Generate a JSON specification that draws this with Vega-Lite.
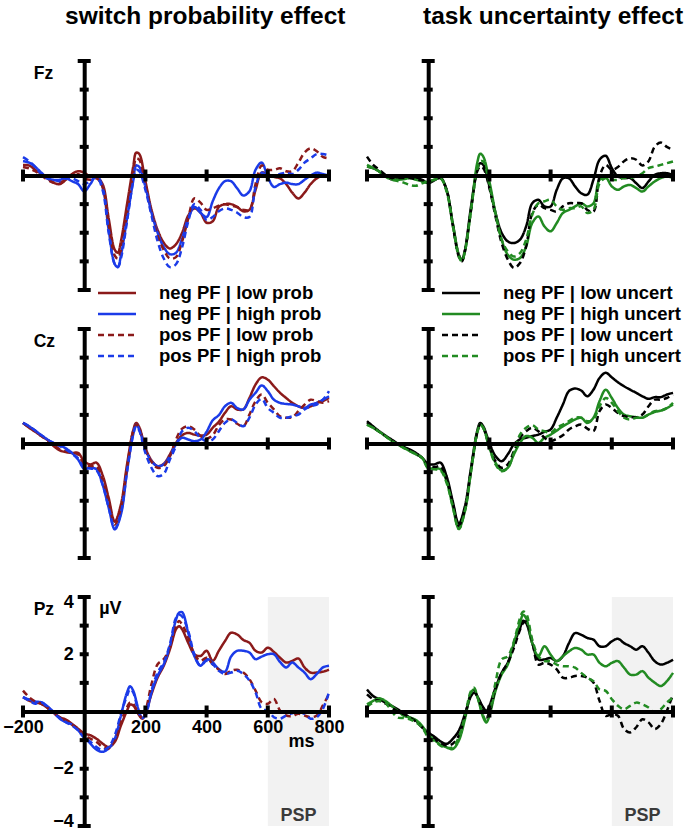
{
  "$schema": "https://vega.github.io/schema/vega-lite/v6.json",
  "background": "white",
  "padding": {"left": 2, "top": 4, "right": 5, "bottom": 5},
  "bounds": "flush",
  "columns": 2,
  "spacing": {"row": 39, "column": 38},
  "config": {
    "view": {"stroke": null},
    "font": "Liberation Sans",
    "axis": {
      "labelFont": "Liberation Sans", "labelFontWeight": "bold", "labelFontSize": 18, "labelColor": "black",
      "titleFont": "Liberation Sans", "titleFontWeight": "bold", "titleFontSize": 17.5, "titleColor": "black",
      "domain": true, "domainColor": "black", "domainWidth": 4, "ticks": false, "grid": false, "labels": false
    },
    "axisX": {"offset": -114.5, "labelFlush": false, "labelPadding": 7, "labelOverlap": false},
    "axisY": {"offset": -61.2, "labelFlush": true, "labelFlushOffset": 4, "labelPadding": 11, "labelOverlap": false},
    "legend": {
      "title": null, "direction": "vertical", "symbolType": "M-2,0H2", "symbolSize": 361, "symbolStrokeWidth": 2.5,
      "labelFont": "Liberation Sans", "labelFontSize": 18.5, "labelFontWeight": "bold", "labelColor": "black",
      "labelOffset": 31, "labelLimit": 300, "rowPadding": 0, "padding": 0
    },
    "tick": {"opacity": 1, "color": "black", "thickness": 4},
    "title": {"font": "Liberation Sans", "fontWeight": "bold", "fontSize": 24.5, "color": "black", "anchor": "start", "frame": "group", "baseline": "alphabetic", "offset": 29.5}
  },
  "resolve": {"scale": {"color": "independent", "strokeDash": "independent"}},
  "datasets": {
    "xt": [{"t": -200}, {"t": 200}, {"t": 400}, {"t": 600}, {"t": 800}],
    "yt": [{"v": -4}, {"v": -3}, {"v": -2}, {"v": -1}, {"v": 1}, {"v": 2}, {"v": 3}, {"v": 4}],
    "psp": [{"t0": 600, "t1": 800, "label": "PSP"}],
    "unit": [{"label": "µV"}],
    "FzL": [
      {"t":-200,"nl":0.37,"nh":0.5,"pl":0.3,"ph":0.64},
      {"t":-180,"nl":0.35,"nh":0.45,"pl":0.25,"ph":0.5},
      {"t":-160,"nl":0.2,"nh":0.3,"pl":0.15,"ph":0.3},
      {"t":-140,"nl":0.05,"nh":0.1,"pl":0.0,"ph":0.05},
      {"t":-120,"nl":-0.1,"nh":-0.1,"pl":-0.15,"ph":-0.1},
      {"t":-100,"nl":-0.25,"nh":-0.15,"pl":-0.25,"ph":-0.15},
      {"t":-80,"nl":-0.3,"nh":-0.15,"pl":-0.25,"ph":-0.2},
      {"t":-60,"nl":-0.15,"nh":-0.1,"pl":-0.15,"ph":-0.1},
      {"t":-40,"nl":0.05,"nh":-0.2,"pl":0.0,"ph":-0.1},
      {"t":-20,"nl":0.15,"nh":-0.3,"pl":0.05,"ph":-0.2},
      {"t":0,"nl":0.1,"nh":-0.55,"pl":-0.1,"ph":-0.3},
      {"t":20,"nl":-0.05,"nh":-0.3,"pl":-0.15,"ph":-0.2},
      {"t":40,"nl":-0.05,"nh":0.0,"pl":-0.1,"ph":-0.05},
      {"t":60,"nl":-0.3,"nh":-0.4,"pl":-0.4,"ph":-0.5},
      {"t":80,"nl":-1.5,"nh":-1.9,"pl":-1.7,"ph":-2.0},
      {"t":100,"nl":-2.6,"nh":-3.1,"pl":-2.8,"ph":-3.1},
      {"t":110,"nl":-2.7,"nh":-3.2,"pl":-2.9,"ph":-3.2},
      {"t":120,"nl":-2.3,"nh":-2.8,"pl":-2.6,"ph":-2.9},
      {"t":140,"nl":-1.0,"nh":-1.5,"pl":-1.3,"ph":-1.6},
      {"t":160,"nl":0.3,"nh":-0.2,"pl":0.1,"ph":-0.2},
      {"t":170,"nl":0.8,"nh":0.35,"pl":0.6,"ph":0.2},
      {"t":180,"nl":0.75,"nh":0.3,"pl":0.55,"ph":0.15},
      {"t":200,"nl":-0.2,"nh":-0.4,"pl":-0.3,"ph":-0.5},
      {"t":220,"nl":-1.2,"nh":-1.3,"pl":-1.3,"ph":-1.4},
      {"t":240,"nl":-1.9,"nh":-2.0,"pl":-2.1,"ph":-2.3},
      {"t":260,"nl":-2.35,"nh":-2.5,"pl":-2.6,"ph":-2.9},
      {"t":280,"nl":-2.55,"nh":-2.75,"pl":-2.9,"ph":-3.2},
      {"t":300,"nl":-2.4,"nh":-2.7,"pl":-2.85,"ph":-3.1},
      {"t":320,"nl":-2.0,"nh":-2.2,"pl":-2.3,"ph":-2.5},
      {"t":340,"nl":-1.4,"nh":-1.5,"pl":-1.5,"ph":-1.6},
      {"t":360,"nl":-1.15,"nh":-1.1,"pl":-0.8,"ph":-1.0},
      {"t":380,"nl":-1.3,"nh":-1.3,"pl":-0.95,"ph":-1.2},
      {"t":400,"nl":-1.65,"nh":-1.45,"pl":-1.2,"ph":-1.55},
      {"t":420,"nl":-1.6,"nh":-0.9,"pl":-1.15,"ph":-1.45},
      {"t":440,"nl":-1.1,"nh":-0.45,"pl":-1.05,"ph":-1.25},
      {"t":460,"nl":-1.0,"nh":-0.2,"pl":-1.0,"ph":-1.15},
      {"t":480,"nl":-1.0,"nh":-0.2,"pl":-1.05,"ph":-1.2},
      {"t":500,"nl":-1.1,"nh":-0.45,"pl":-1.1,"ph":-1.3},
      {"t":520,"nl":-1.25,"nh":-0.7,"pl":-1.2,"ph":-1.45},
      {"t":540,"nl":-1.2,"nh":-0.55,"pl":-1.2,"ph":-1.45},
      {"t":560,"nl":-0.5,"nh":0.2,"pl":-0.3,"ph":-0.4},
      {"t":580,"nl":0.1,"nh":0.45,"pl":0.35,"ph":0.1},
      {"t":600,"nl":0.05,"nh":-0.05,"pl":0.2,"ph":-0.05},
      {"t":620,"nl":-0.05,"nh":-0.4,"pl":0.2,"ph":0.0},
      {"t":640,"nl":-0.1,"nh":-0.3,"pl":0.25,"ph":0.05},
      {"t":660,"nl":-0.3,"nh":-0.25,"pl":0.15,"ph":0.1},
      {"t":680,"nl":-0.6,"nh":-0.3,"pl":0.15,"ph":0.05},
      {"t":700,"nl":-0.8,"nh":-0.3,"pl":0.45,"ph":0.2},
      {"t":720,"nl":-0.6,"nh":-0.15,"pl":0.8,"ph":0.45},
      {"t":740,"nl":-0.3,"nh":0.0,"pl":0.95,"ph":0.6},
      {"t":760,"nl":-0.1,"nh":0.1,"pl":0.85,"ph":0.75},
      {"t":780,"nl":0.0,"nh":0.05,"pl":0.65,"ph":0.75},
      {"t":800,"nl":0.0,"nh":0.0,"pl":0.6,"ph":0.7}
    ],
    "FzR": [
      {"t":-200,"nl":0.31,"nh":0.31,"pl":0.66,"ph":0.37},
      {"t":-180,"nl":0.26,"nh":0.26,"pl":0.37,"ph":0.26},
      {"t":-160,"nl":0.14,"nh":0.14,"pl":0.2,"ph":0.14},
      {"t":-140,"nl":0.0,"nh":0.0,"pl":0.02,"ph":-0.03},
      {"t":-120,"nl":-0.13,"nh":-0.13,"pl":-0.09,"ph":-0.15},
      {"t":-100,"nl":-0.13,"nh":-0.15,"pl":-0.09,"ph":-0.19},
      {"t":-80,"nl":-0.1,"nh":-0.13,"pl":-0.09,"ph":-0.25},
      {"t":-60,"nl":-0.07,"nh":-0.09,"pl":-0.09,"ph":-0.33},
      {"t":-40,"nl":-0.09,"nh":-0.15,"pl":-0.13,"ph":-0.36},
      {"t":-20,"nl":-0.15,"nh":-0.2,"pl":-0.17,"ph":-0.27},
      {"t":0,"nl":-0.27,"nh":-0.24,"pl":-0.21,"ph":-0.21},
      {"t":20,"nl":-0.17,"nh":-0.15,"pl":-0.15,"ph":-0.15},
      {"t":40,"nl":-0.07,"nh":-0.09,"pl":-0.09,"ph":-0.09},
      {"t":60,"nl":-0.5,"nh":-0.5,"pl":-0.5,"ph":-0.56},
      {"t":80,"nl":-1.66,"nh":-1.66,"pl":-1.72,"ph":-1.72},
      {"t":100,"nl":-2.77,"nh":-2.77,"pl":-2.83,"ph":-2.83},
      {"t":110,"nl":-2.94,"nh":-2.97,"pl":-3.0,"ph":-3.0},
      {"t":120,"nl":-2.6,"nh":-2.65,"pl":-2.65,"ph":-2.65},
      {"t":140,"nl":-1.08,"nh":-1.2,"pl":-1.2,"ph":-1.2},
      {"t":160,"nl":0.2,"nh":0.43,"pl":0.14,"ph":0.2},
      {"t":170,"nl":0.43,"nh":0.76,"pl":0.31,"ph":0.49},
      {"t":180,"nl":0.37,"nh":0.66,"pl":0.26,"ph":0.49},
      {"t":200,"nl":-0.38,"nh":-0.21,"pl":-0.44,"ph":-0.33},
      {"t":220,"nl":-1.31,"nh":-1.31,"pl":-1.43,"ph":-1.37},
      {"t":240,"nl":-2.0,"nh":-2.24,"pl":-2.36,"ph":-2.24},
      {"t":260,"nl":-2.3,"nh":-2.77,"pl":-2.93,"ph":-2.65},
      {"t":280,"nl":-2.36,"nh":-2.94,"pl":-3.23,"ph":-2.83},
      {"t":300,"nl":-2.24,"nh":-2.88,"pl":-3.06,"ph":-2.71},
      {"t":320,"nl":-1.78,"nh":-2.48,"pl":-2.48,"ph":-2.24},
      {"t":340,"nl":-0.97,"nh":-1.66,"pl":-1.31,"ph":-1.37},
      {"t":360,"nl":-0.85,"nh":-1.43,"pl":-1.02,"ph":-0.97},
      {"t":380,"nl":-1.08,"nh":-1.78,"pl":-1.14,"ph":-0.9},
      {"t":400,"nl":-1.08,"nh":-1.95,"pl":-1.2,"ph":-0.85},
      {"t":420,"nl":-0.5,"nh":-1.66,"pl":-1.26,"ph":-1.08},
      {"t":440,"nl":-0.1,"nh":-1.31,"pl":-1.08,"ph":-1.2},
      {"t":460,"nl":-0.1,"nh":-1.2,"pl":-0.97,"ph":-1.14},
      {"t":480,"nl":-0.38,"nh":-1.08,"pl":-0.97,"ph":-1.14},
      {"t":500,"nl":-0.62,"nh":-0.97,"pl":-0.97,"ph":-1.08},
      {"t":520,"nl":-0.67,"nh":-1.08,"pl":-1.2,"ph":-1.31},
      {"t":540,"nl":-0.15,"nh":-0.97,"pl":-1.26,"ph":-1.2},
      {"t":560,"nl":0.55,"nh":-0.15,"pl":-0.03,"ph":-0.27},
      {"t":580,"nl":0.69,"nh":-0.07,"pl":0.37,"ph":-0.09},
      {"t":600,"nl":0.26,"nh":-0.38,"pl":0.2,"ph":-0.15},
      {"t":620,"nl":-0.03,"nh":-0.5,"pl":0.3,"ph":-0.15},
      {"t":640,"nl":-0.09,"nh":-0.38,"pl":0.5,"ph":-0.09},
      {"t":660,"nl":-0.09,"nh":-0.33,"pl":0.6,"ph":-0.09},
      {"t":680,"nl":-0.27,"nh":-0.44,"pl":0.55,"ph":-0.03},
      {"t":700,"nl":-0.44,"nh":-0.56,"pl":0.35,"ph":0.08},
      {"t":720,"nl":-0.21,"nh":-0.38,"pl":0.5,"ph":0.26},
      {"t":740,"nl":0.02,"nh":-0.21,"pl":1.0,"ph":0.31},
      {"t":760,"nl":0.08,"nh":-0.09,"pl":1.15,"ph":0.37},
      {"t":780,"nl":0.08,"nh":-0.03,"pl":1.0,"ph":0.43},
      {"t":800,"nl":0.02,"nh":-0.09,"pl":0.9,"ph":0.49}
    ],
    "CzL": [
      {"t":-200,"nl":0.72,"nh":0.72,"pl":0.72,"ph":0.72},
      {"t":-180,"nl":0.55,"nh":0.6,"pl":0.57,"ph":0.6},
      {"t":-160,"nl":0.41,"nh":0.45,"pl":0.43,"ph":0.45},
      {"t":-140,"nl":0.26,"nh":0.29,"pl":0.26,"ph":0.29},
      {"t":-120,"nl":0.12,"nh":0.14,"pl":0.12,"ph":0.14},
      {"t":-100,"nl":-0.09,"nh":0.02,"pl":-0.03,"ph":0.02},
      {"t":-80,"nl":-0.24,"nh":-0.06,"pl":-0.21,"ph":-0.09},
      {"t":-60,"nl":-0.3,"nh":-0.17,"pl":-0.27,"ph":-0.21},
      {"t":-40,"nl":-0.33,"nh":-0.33,"pl":-0.33,"ph":-0.36},
      {"t":-20,"nl":-0.33,"nh":-0.56,"pl":-0.38,"ph":-0.52},
      {"t":0,"nl":-0.62,"nh":-0.88,"pl":-0.73,"ph":-0.85},
      {"t":20,"nl":-0.73,"nh":-0.85,"pl":-0.79,"ph":-0.87},
      {"t":40,"nl":-0.67,"nh":-0.9,"pl":-0.79,"ph":-0.94},
      {"t":60,"nl":-1.1,"nh":-1.43,"pl":-1.26,"ph":-1.43},
      {"t":80,"nl":-1.9,"nh":-2.24,"pl":-2.01,"ph":-2.24},
      {"t":100,"nl":-2.73,"nh":-3.0,"pl":-2.83,"ph":-2.97},
      {"t":120,"nl":-2.13,"nh":-2.48,"pl":-2.24,"ph":-2.42},
      {"t":140,"nl":-0.73,"nh":-0.97,"pl":-0.85,"ph":-0.97},
      {"t":160,"nl":0.45,"nh":0.31,"pl":0.43,"ph":0.31},
      {"t":170,"nl":0.72,"nh":0.66,"pl":0.66,"ph":0.6},
      {"t":180,"nl":0.57,"nh":0.49,"pl":0.52,"ph":0.45},
      {"t":200,"nl":-0.15,"nh":-0.21,"pl":-0.21,"ph":-0.33},
      {"t":220,"nl":-0.59,"nh":-0.62,"pl":-0.64,"ph":-0.85},
      {"t":240,"nl":-0.79,"nh":-0.79,"pl":-0.85,"ph":-1.14},
      {"t":260,"nl":-0.71,"nh":-0.73,"pl":-0.79,"ph":-1.06},
      {"t":280,"nl":-0.38,"nh":-0.44,"pl":-0.44,"ph":-0.56},
      {"t":300,"nl":0.02,"nh":-0.03,"pl":0.14,"ph":-0.09},
      {"t":320,"nl":0.29,"nh":0.2,"pl":0.52,"ph":0.43},
      {"t":340,"nl":0.37,"nh":0.14,"pl":0.6,"ph":0.55},
      {"t":360,"nl":0.31,"nh":0.08,"pl":0.49,"ph":0.43},
      {"t":380,"nl":0.28,"nh":0.14,"pl":0.26,"ph":0.2},
      {"t":400,"nl":0.31,"nh":0.41,"pl":0.17,"ph":0.08},
      {"t":420,"nl":0.55,"nh":0.81,"pl":0.29,"ph":0.14},
      {"t":440,"nl":0.76,"nh":0.99,"pl":0.64,"ph":0.43},
      {"t":460,"nl":1.07,"nh":1.3,"pl":0.84,"ph":0.72},
      {"t":480,"nl":1.3,"nh":1.42,"pl":0.84,"ph":0.84},
      {"t":500,"nl":1.19,"nh":1.24,"pl":0.69,"ph":0.72},
      {"t":520,"nl":1.19,"nh":1.19,"pl":0.6,"ph":0.6},
      {"t":540,"nl":1.59,"nh":1.53,"pl":1.01,"ph":0.9},
      {"t":560,"nl":2.06,"nh":1.77,"pl":1.48,"ph":1.36},
      {"t":580,"nl":2.31,"nh":2.03,"pl":1.71,"ph":1.56},
      {"t":600,"nl":2.23,"nh":1.83,"pl":1.42,"ph":1.24},
      {"t":620,"nl":2.0,"nh":1.53,"pl":1.19,"ph":1.07},
      {"t":640,"nl":1.77,"nh":1.42,"pl":0.95,"ph":0.9},
      {"t":660,"nl":1.59,"nh":1.38,"pl":0.9,"ph":0.9},
      {"t":680,"nl":1.42,"nh":1.36,"pl":0.92,"ph":0.95},
      {"t":700,"nl":1.3,"nh":1.3,"pl":1.13,"ph":1.01},
      {"t":720,"nl":1.24,"nh":1.24,"pl":1.36,"ph":1.19},
      {"t":740,"nl":1.3,"nh":1.36,"pl":1.53,"ph":1.3},
      {"t":760,"nl":1.42,"nh":1.42,"pl":1.48,"ph":1.36},
      {"t":780,"nl":1.48,"nh":1.53,"pl":1.42,"ph":1.53},
      {"t":800,"nl":1.59,"nh":1.65,"pl":1.48,"ph":1.83}
    ],
    "CzR": [
      {"t":-200,"nl":0.78,"nh":0.66,"pl":0.72,"ph":0.66},
      {"t":-180,"nl":0.6,"nh":0.55,"pl":0.57,"ph":0.55},
      {"t":-160,"nl":0.43,"nh":0.41,"pl":0.41,"ph":0.41},
      {"t":-140,"nl":0.28,"nh":0.26,"pl":0.26,"ph":0.26},
      {"t":-120,"nl":0.14,"nh":0.1,"pl":0.12,"ph":0.1},
      {"t":-100,"nl":0.0,"nh":-0.03,"pl":-0.01,"ph":-0.03},
      {"t":-80,"nl":-0.12,"nh":-0.15,"pl":-0.13,"ph":-0.15},
      {"t":-60,"nl":-0.21,"nh":-0.27,"pl":-0.23,"ph":-0.27},
      {"t":-40,"nl":-0.33,"nh":-0.38,"pl":-0.36,"ph":-0.36},
      {"t":-20,"nl":-0.5,"nh":-0.5,"pl":-0.5,"ph":-0.5},
      {"t":0,"nl":-0.71,"nh":-0.85,"pl":-0.79,"ph":-0.87},
      {"t":20,"nl":-0.73,"nh":-0.87,"pl":-0.83,"ph":-0.9},
      {"t":40,"nl":-0.67,"nh":-0.9,"pl":-0.79,"ph":-0.94},
      {"t":60,"nl":-1.14,"nh":-1.31,"pl":-1.26,"ph":-1.37},
      {"t":80,"nl":-2.01,"nh":-2.19,"pl":-2.07,"ph":-2.19},
      {"t":100,"nl":-2.8,"nh":-2.97,"pl":-2.87,"ph":-2.99},
      {"t":120,"nl":-2.19,"nh":-2.36,"pl":-2.3,"ph":-2.36},
      {"t":140,"nl":-0.85,"nh":-0.97,"pl":-0.91,"ph":-0.97},
      {"t":160,"nl":0.43,"nh":0.37,"pl":0.37,"ph":0.37},
      {"t":170,"nl":0.72,"nh":0.66,"pl":0.66,"ph":0.64},
      {"t":180,"nl":0.6,"nh":0.55,"pl":0.55,"ph":0.55},
      {"t":200,"nl":0.02,"nh":-0.15,"pl":-0.09,"ph":-0.15},
      {"t":220,"nl":-0.44,"nh":-0.67,"pl":-0.62,"ph":-0.73},
      {"t":240,"nl":-0.62,"nh":-0.94,"pl":-0.85,"ph":-0.97},
      {"t":260,"nl":-0.38,"nh":-0.85,"pl":-0.73,"ph":-0.85},
      {"t":280,"nl":-0.03,"nh":-0.38,"pl":-0.27,"ph":-0.33},
      {"t":300,"nl":0.14,"nh":0.02,"pl":0.2,"ph":0.31},
      {"t":320,"nl":0.2,"nh":0.26,"pl":0.43,"ph":0.55},
      {"t":340,"nl":0.26,"nh":0.2,"pl":0.55,"ph":0.64},
      {"t":360,"nl":0.31,"nh":0.02,"pl":0.43,"ph":0.49},
      {"t":380,"nl":0.41,"nh":0.2,"pl":0.2,"ph":0.43},
      {"t":400,"nl":0.49,"nh":0.31,"pl":0.08,"ph":0.37},
      {"t":420,"nl":0.9,"nh":0.45,"pl":0.17,"ph":0.55},
      {"t":440,"nl":1.36,"nh":0.6,"pl":0.29,"ph":0.66},
      {"t":460,"nl":1.83,"nh":0.72,"pl":0.49,"ph":0.78},
      {"t":480,"nl":1.92,"nh":0.84,"pl":0.6,"ph":0.9},
      {"t":500,"nl":1.85,"nh":0.9,"pl":0.66,"ph":0.9},
      {"t":520,"nl":1.65,"nh":0.72,"pl":0.52,"ph":0.78},
      {"t":540,"nl":1.88,"nh":0.9,"pl":0.43,"ph":0.84},
      {"t":560,"nl":2.29,"nh":1.48,"pl":1.13,"ph":1.3},
      {"t":580,"nl":2.47,"nh":1.88,"pl":1.36,"ph":1.59},
      {"t":600,"nl":2.31,"nh":1.59,"pl":1.24,"ph":1.42},
      {"t":620,"nl":2.14,"nh":1.24,"pl":1.07,"ph":1.13},
      {"t":640,"nl":2.0,"nh":1.01,"pl":0.95,"ph":0.9},
      {"t":660,"nl":1.88,"nh":0.95,"pl":0.92,"ph":0.84},
      {"t":680,"nl":1.77,"nh":0.92,"pl":0.92,"ph":0.9},
      {"t":700,"nl":1.65,"nh":0.9,"pl":1.01,"ph":0.9},
      {"t":720,"nl":1.56,"nh":1.01,"pl":1.3,"ph":1.01},
      {"t":740,"nl":1.62,"nh":1.1,"pl":1.53,"ph":1.13},
      {"t":760,"nl":1.62,"nh":1.15,"pl":1.53,"ph":1.15},
      {"t":780,"nl":1.71,"nh":1.24,"pl":1.59,"ph":1.24},
      {"t":800,"nl":1.77,"nh":1.36,"pl":1.71,"ph":1.42}
    ],
    "PzL": [
      {"t":-200,"nl":0.5,"nh":0.5,"pl":0.73,"ph":0.5},
      {"t":-180,"nl":0.38,"nh":0.42,"pl":0.5,"ph":0.38},
      {"t":-160,"nl":0.32,"nh":0.35,"pl":0.35,"ph":0.27},
      {"t":-140,"nl":0.27,"nh":0.32,"pl":0.27,"ph":0.32},
      {"t":-120,"nl":0.12,"nh":0.18,"pl":0.12,"ph":0.15},
      {"t":-100,"nl":-0.05,"nh":-0.02,"pl":-0.05,"ph":-0.05},
      {"t":-80,"nl":-0.2,"nh":-0.25,"pl":-0.2,"ph":-0.23},
      {"t":-60,"nl":-0.28,"nh":-0.37,"pl":-0.31,"ph":-0.37},
      {"t":-40,"nl":-0.43,"nh":-0.46,"pl":-0.46,"ph":-0.49},
      {"t":-20,"nl":-0.6,"nh":-0.66,"pl":-0.6,"ph":-0.66},
      {"t":0,"nl":-0.77,"nh":-0.89,"pl":-0.81,"ph":-0.92},
      {"t":20,"nl":-0.83,"nh":-1.12,"pl":-0.95,"ph":-1.06},
      {"t":40,"nl":-0.95,"nh":-1.33,"pl":-1.06,"ph":-1.24},
      {"t":60,"nl":-1.12,"nh":-1.41,"pl":-1.24,"ph":-1.35},
      {"t":80,"nl":-1.24,"nh":-1.29,"pl":-1.29,"ph":-1.24},
      {"t":100,"nl":-1.06,"nh":-0.95,"pl":-1.0,"ph":-0.83},
      {"t":120,"nl":-0.49,"nh":-0.14,"pl":-0.37,"ph":-0.08},
      {"t":140,"nl":0.03,"nh":0.67,"pl":0.15,"ph":0.55},
      {"t":150,"nl":0.24,"nh":0.88,"pl":0.32,"ph":0.78},
      {"t":160,"nl":0.21,"nh":0.73,"pl":0.27,"ph":0.67},
      {"t":180,"nl":-0.14,"nh":-0.02,"pl":-0.12,"ph":-0.08},
      {"t":190,"nl":-0.25,"nh":-0.23,"pl":-0.23,"ph":-0.2},
      {"t":200,"nl":-0.08,"nh":-0.12,"pl":0.0,"ph":-0.14},
      {"t":220,"nl":0.61,"nh":0.67,"pl":0.96,"ph":0.73},
      {"t":240,"nl":1.19,"nh":1.25,"pl":1.65,"ph":1.36},
      {"t":260,"nl":1.6,"nh":1.65,"pl":1.83,"ph":1.71},
      {"t":280,"nl":2.17,"nh":2.29,"pl":2.24,"ph":2.35},
      {"t":300,"nl":2.87,"nh":3.21,"pl":2.98,"ph":3.27},
      {"t":310,"nl":2.98,"nh":3.45,"pl":3.16,"ph":3.38},
      {"t":320,"nl":2.87,"nh":3.47,"pl":3.04,"ph":3.32},
      {"t":340,"nl":2.4,"nh":2.75,"pl":2.58,"ph":2.81},
      {"t":360,"nl":2.0,"nh":1.94,"pl":2.0,"ph":1.99},
      {"t":380,"nl":1.94,"nh":1.6,"pl":1.77,"ph":1.6},
      {"t":400,"nl":2.12,"nh":1.83,"pl":1.88,"ph":1.77},
      {"t":420,"nl":1.77,"nh":1.71,"pl":1.65,"ph":1.65},
      {"t":440,"nl":2.12,"nh":1.48,"pl":1.46,"ph":1.42},
      {"t":460,"nl":2.46,"nh":1.39,"pl":1.31,"ph":1.31},
      {"t":480,"nl":2.75,"nh":1.92,"pl":1.42,"ph":1.36},
      {"t":500,"nl":2.69,"nh":2.12,"pl":1.46,"ph":1.42},
      {"t":520,"nl":2.5,"nh":2.12,"pl":1.36,"ph":1.31},
      {"t":540,"nl":2.4,"nh":2.06,"pl":1.13,"ph":1.08},
      {"t":560,"nl":2.12,"nh":1.83,"pl":0.73,"ph":0.67},
      {"t":580,"nl":2.06,"nh":1.92,"pl":0.32,"ph":0.09},
      {"t":600,"nl":2.23,"nh":2.0,"pl":0.27,"ph":0.03},
      {"t":620,"nl":2.08,"nh":2.0,"pl":0.44,"ph":-0.2},
      {"t":640,"nl":1.88,"nh":1.73,"pl":0.03,"ph":-0.25},
      {"t":660,"nl":1.71,"nh":1.54,"pl":-0.14,"ph":-0.14},
      {"t":680,"nl":1.77,"nh":1.71,"pl":-0.16,"ph":-0.06},
      {"t":700,"nl":1.85,"nh":1.54,"pl":-0.08,"ph":-0.02},
      {"t":720,"nl":1.54,"nh":1.36,"pl":-0.14,"ph":-0.08},
      {"t":740,"nl":1.36,"nh":1.13,"pl":-0.2,"ph":-0.25},
      {"t":760,"nl":1.36,"nh":1.31,"pl":-0.14,"ph":-0.2},
      {"t":780,"nl":1.39,"nh":1.54,"pl":0.21,"ph":0.09},
      {"t":800,"nl":1.46,"nh":1.6,"pl":0.61,"ph":0.67}
    ],
    "PzR": [
      {"t":-200,"nl":0.77,"nh":0.25,"pl":0.6,"ph":0.16},
      {"t":-180,"nl":0.54,"nh":0.37,"pl":0.43,"ph":0.31},
      {"t":-160,"nl":0.43,"nh":0.46,"pl":0.37,"ph":0.37},
      {"t":-140,"nl":0.31,"nh":0.37,"pl":0.28,"ph":0.31},
      {"t":-120,"nl":0.2,"nh":0.2,"pl":0.14,"ph":0.02},
      {"t":-100,"nl":0.08,"nh":0.02,"pl":0.0,"ph":-0.21},
      {"t":-80,"nl":-0.07,"nh":-0.15,"pl":-0.09,"ph":-0.23},
      {"t":-60,"nl":-0.21,"nh":-0.21,"pl":-0.21,"ph":-0.27},
      {"t":-40,"nl":-0.32,"nh":-0.3,"pl":-0.35,"ph":-0.38},
      {"t":-20,"nl":-0.55,"nh":-0.5,"pl":-0.55,"ph":-0.55},
      {"t":0,"nl":-0.73,"nh":-0.81,"pl":-0.79,"ph":-0.9},
      {"t":20,"nl":-0.88,"nh":-0.99,"pl":-0.95,"ph":-1.02},
      {"t":40,"nl":-1.04,"nh":-1.16,"pl":-1.11,"ph":-1.19},
      {"t":60,"nl":-1.13,"nh":-1.25,"pl":-1.19,"ph":-1.27},
      {"t":80,"nl":-0.96,"nh":-1.31,"pl":-1.13,"ph":-1.25},
      {"t":100,"nl":-0.67,"nh":-1.02,"pl":-0.84,"ph":-0.9},
      {"t":120,"nl":-0.09,"nh":-0.27,"pl":-0.15,"ph":-0.15},
      {"t":140,"nl":0.54,"nh":0.66,"pl":0.6,"ph":0.72},
      {"t":150,"nl":0.66,"nh":0.77,"pl":0.72,"ph":0.83},
      {"t":160,"nl":0.54,"nh":0.54,"pl":0.54,"ph":0.54},
      {"t":180,"nl":0.14,"nh":-0.21,"pl":0.0,"ph":-0.15},
      {"t":190,"nl":0.02,"nh":-0.38,"pl":-0.21,"ph":-0.32},
      {"t":200,"nl":0.2,"nh":-0.15,"pl":-0.03,"ph":-0.09},
      {"t":220,"nl":0.83,"nh":0.72,"pl":0.78,"ph":1.01},
      {"t":240,"nl":1.35,"nh":1.29,"pl":1.35,"ph":1.82},
      {"t":260,"nl":1.7,"nh":1.64,"pl":1.7,"ph":1.93},
      {"t":280,"nl":2.34,"nh":2.39,"pl":2.22,"ph":2.45},
      {"t":300,"nl":2.91,"nh":3.09,"pl":2.85,"ph":3.26},
      {"t":310,"nl":3.17,"nh":3.38,"pl":3.09,"ph":3.49},
      {"t":320,"nl":3.09,"nh":3.26,"pl":3.14,"ph":3.43},
      {"t":340,"nl":2.39,"nh":2.39,"pl":2.45,"ph":2.51},
      {"t":360,"nl":1.82,"nh":1.93,"pl":1.64,"ph":1.93},
      {"t":380,"nl":1.82,"nh":2.28,"pl":1.7,"ph":1.76},
      {"t":400,"nl":1.87,"nh":1.99,"pl":1.64,"ph":1.76},
      {"t":420,"nl":1.76,"nh":1.76,"pl":1.47,"ph":1.64},
      {"t":440,"nl":1.93,"nh":1.93,"pl":1.18,"ph":1.58},
      {"t":460,"nl":2.39,"nh":2.1,"pl":1.18,"ph":1.58},
      {"t":480,"nl":2.74,"nh":2.22,"pl":1.24,"ph":1.53},
      {"t":500,"nl":2.68,"nh":2.16,"pl":1.24,"ph":1.35},
      {"t":520,"nl":2.57,"nh":1.99,"pl":1.18,"ph":1.18},
      {"t":540,"nl":2.51,"nh":1.99,"pl":1.01,"ph":1.06},
      {"t":560,"nl":2.28,"nh":1.7,"pl":0.37,"ph":0.77},
      {"t":580,"nl":2.28,"nh":1.58,"pl":-0.15,"ph":0.72},
      {"t":600,"nl":2.45,"nh":1.7,"pl":-0.09,"ph":0.43},
      {"t":620,"nl":2.54,"nh":1.76,"pl":-0.15,"ph":0.2},
      {"t":640,"nl":2.39,"nh":1.53,"pl":-0.61,"ph":0.08},
      {"t":660,"nl":2.28,"nh":1.29,"pl":-0.73,"ph":0.2},
      {"t":680,"nl":2.16,"nh":1.29,"pl":-0.55,"ph":0.31},
      {"t":700,"nl":2.28,"nh":1.41,"pl":-0.27,"ph":0.25},
      {"t":720,"nl":2.05,"nh":1.18,"pl":-0.38,"ph":0.14},
      {"t":740,"nl":1.76,"nh":1.01,"pl":-0.61,"ph":-0.03},
      {"t":760,"nl":1.64,"nh":0.89,"pl":-0.44,"ph":0.08},
      {"t":780,"nl":1.7,"nh":1.06,"pl":0.02,"ph":0.31},
      {"t":800,"nl":1.81,"nh":1.35,"pl":0.6,"ph":0.49}
    ]
  },
  "concat": [
    {
      "width": 306, "height": 229,
      "title": {"text": "switch probability effect", "dx": 42},
      "layer": [
        {"data": {"name": "FzL"}, "transform": [{"fold": ["nl", "nh", "pl", "ph"], "as": ["s", "v"]}],
         "mark": {"type": "line", "interpolate": "catmull-rom", "strokeWidth": 2.5},
         "encoding": {
           "x": {"field": "t", "type": "quantitative", "scale": {"domain": [-200, 800], "nice": false, "zero": false}, "axis": {"title": null, "zindex": 1}},
           "y": {"field": "v", "type": "quantitative", "scale": {"domain": [-4, 4], "nice": false, "zero": false}, "axis": {"zindex": 1, "title": "Fz", "titleAngle": 0, "titleAlign": "left", "titleBaseline": "alphabetic", "titleX": -51, "titleY": 17.5}},
           "color": {"field": "s", "type": "nominal", "scale": {"domain": ["nl", "nh", "pl", "ph"], "range": ["#8b1a1a", "#1b3be8", "#8b1a1a", "#1b3be8"]},
             "legend": {"orient": "none", "legendX": 83, "legendY": 221, "labelExpr": "datum.value == 'nl' ? 'neg PF | low prob' : datum.value == 'nh' ? 'neg PF | high prob' : datum.value == 'pl' ? 'pos PF | low prob' : 'pos PF | high prob'"}},
           "strokeDash": {"field": "s", "type": "nominal", "scale": {"domain": ["nl", "nh", "pl", "ph"], "range": [[1, 0], [1, 0], [6, 4], [6, 4]]},
             "legend": {"orient": "none", "legendX": 83, "legendY": 221, "labelExpr": "datum.value == 'nl' ? 'neg PF | low prob' : datum.value == 'nh' ? 'neg PF | high prob' : datum.value == 'pl' ? 'pos PF | low prob' : 'pos PF | high prob'"}}
         }},
        {"data": {"name": "xt"}, "mark": {"type": "tick", "orient": "vertical", "size": 12},
         "encoding": {"x": {"field": "t", "type": "quantitative"}, "y": {"datum": 0}}},
        {"data": {"name": "yt"}, "transform": [{"filter": "abs(datum.v) < 4"}], "mark": {"type": "tick", "orient": "horizontal", "size": 9},
         "encoding": {"y": {"field": "v", "type": "quantitative"}, "x": {"datum": 0}}},
        {"data": {"name": "yt"}, "transform": [{"filter": "abs(datum.v) == 4"}], "mark": {"type": "tick", "orient": "horizontal", "size": 13},
         "encoding": {"y": {"field": "v", "type": "quantitative"}, "x": {"datum": 0}}}
      ]
    },
    {
      "width": 306, "height": 229,
      "title": {"text": "task uncertainty effect", "dx": 56},
      "layer": [
        {"data": {"name": "FzR"}, "transform": [{"fold": ["nl", "nh", "pl", "ph"], "as": ["s", "v"]}],
         "mark": {"type": "line", "interpolate": "catmull-rom", "strokeWidth": 2.5},
         "encoding": {
           "x": {"field": "t", "type": "quantitative", "scale": {"domain": [-200, 800], "nice": false, "zero": false}, "axis": {"title": null, "zindex": 1}},
           "y": {"field": "v", "type": "quantitative", "scale": {"domain": [-4, 4], "nice": false, "zero": false}, "axis": {"title": null, "zindex": 1}},
           "color": {"field": "s", "type": "nominal", "scale": {"domain": ["nl", "nh", "pl", "ph"], "range": ["#000000", "#228b22", "#000000", "#228b22"]},
             "legend": {"orient": "none", "legendX": 83, "legendY": 221, "labelExpr": "datum.value == 'nl' ? 'neg PF | low uncert' : datum.value == 'nh' ? 'neg PF | high uncert' : datum.value == 'pl' ? 'pos PF | low uncert' : 'pos PF | high uncert'"}},
           "strokeDash": {"field": "s", "type": "nominal", "scale": {"domain": ["nl", "nh", "pl", "ph"], "range": [[1, 0], [1, 0], [6, 4], [6, 4]]},
             "legend": {"orient": "none", "legendX": 83, "legendY": 221, "labelExpr": "datum.value == 'nl' ? 'neg PF | low uncert' : datum.value == 'nh' ? 'neg PF | high uncert' : datum.value == 'pl' ? 'pos PF | low uncert' : 'pos PF | high uncert'"}}
         }},
        {"data": {"name": "xt"}, "mark": {"type": "tick", "orient": "vertical", "size": 12},
         "encoding": {"x": {"field": "t", "type": "quantitative"}, "y": {"datum": 0}}},
        {"data": {"name": "yt"}, "transform": [{"filter": "abs(datum.v) < 4"}], "mark": {"type": "tick", "orient": "horizontal", "size": 9},
         "encoding": {"y": {"field": "v", "type": "quantitative"}, "x": {"datum": 0}}},
        {"data": {"name": "yt"}, "transform": [{"filter": "abs(datum.v) == 4"}], "mark": {"type": "tick", "orient": "horizontal", "size": 13},
         "encoding": {"y": {"field": "v", "type": "quantitative"}, "x": {"datum": 0}}}
      ]
    },
    {
      "width": 306, "height": 229,
      "layer": [
        {"data": {"name": "CzL"}, "transform": [{"fold": ["nl", "nh", "pl", "ph"], "as": ["s", "v"]}],
         "mark": {"type": "line", "interpolate": "catmull-rom", "strokeWidth": 2.5},
         "encoding": {
           "x": {"field": "t", "type": "quantitative", "scale": {"domain": [-200, 800], "nice": false, "zero": false}, "axis": {"title": null, "zindex": 1}},
           "y": {"field": "v", "type": "quantitative", "scale": {"domain": [-4, 4], "nice": false, "zero": false}, "axis": {"zindex": 1, "title": "Cz", "titleAngle": 0, "titleAlign": "left", "titleBaseline": "alphabetic", "titleX": -51, "titleY": 17.5}},
           "color": {"field": "s", "type": "nominal", "scale": {"domain": ["nl", "nh", "pl", "ph"], "range": ["#8b1a1a", "#1b3be8", "#8b1a1a", "#1b3be8"]}, "legend": null},
           "strokeDash": {"field": "s", "type": "nominal", "scale": {"domain": ["nl", "nh", "pl", "ph"], "range": [[1, 0], [1, 0], [6, 4], [6, 4]]}, "legend": null}
         }},
        {"data": {"name": "xt"}, "mark": {"type": "tick", "orient": "vertical", "size": 12},
         "encoding": {"x": {"field": "t", "type": "quantitative"}, "y": {"datum": 0}}},
        {"data": {"name": "yt"}, "transform": [{"filter": "abs(datum.v) < 4"}], "mark": {"type": "tick", "orient": "horizontal", "size": 9},
         "encoding": {"y": {"field": "v", "type": "quantitative"}, "x": {"datum": 0}}},
        {"data": {"name": "yt"}, "transform": [{"filter": "abs(datum.v) == 4"}], "mark": {"type": "tick", "orient": "horizontal", "size": 13},
         "encoding": {"y": {"field": "v", "type": "quantitative"}, "x": {"datum": 0}}}
      ]
    },
    {
      "width": 306, "height": 229,
      "layer": [
        {"data": {"name": "CzR"}, "transform": [{"fold": ["nl", "nh", "pl", "ph"], "as": ["s", "v"]}],
         "mark": {"type": "line", "interpolate": "catmull-rom", "strokeWidth": 2.5},
         "encoding": {
           "x": {"field": "t", "type": "quantitative", "scale": {"domain": [-200, 800], "nice": false, "zero": false}, "axis": {"title": null, "zindex": 1}},
           "y": {"field": "v", "type": "quantitative", "scale": {"domain": [-4, 4], "nice": false, "zero": false}, "axis": {"title": null, "zindex": 1}},
           "color": {"field": "s", "type": "nominal", "scale": {"domain": ["nl", "nh", "pl", "ph"], "range": ["#000000", "#228b22", "#000000", "#228b22"]}, "legend": null},
           "strokeDash": {"field": "s", "type": "nominal", "scale": {"domain": ["nl", "nh", "pl", "ph"], "range": [[1, 0], [1, 0], [6, 4], [6, 4]]}, "legend": null}
         }},
        {"data": {"name": "xt"}, "mark": {"type": "tick", "orient": "vertical", "size": 12},
         "encoding": {"x": {"field": "t", "type": "quantitative"}, "y": {"datum": 0}}},
        {"data": {"name": "yt"}, "transform": [{"filter": "abs(datum.v) < 4"}], "mark": {"type": "tick", "orient": "horizontal", "size": 9},
         "encoding": {"y": {"field": "v", "type": "quantitative"}, "x": {"datum": 0}}},
        {"data": {"name": "yt"}, "transform": [{"filter": "abs(datum.v) == 4"}], "mark": {"type": "tick", "orient": "horizontal", "size": 13},
         "encoding": {"y": {"field": "v", "type": "quantitative"}, "x": {"datum": 0}}}
      ]
    },
    {
      "width": 306, "height": 229,
      "layer": [
        {"data": {"name": "psp"}, "mark": {"type": "rect", "color": "#f2f2f2"},
         "encoding": {"x": {"field": "t0", "type": "quantitative"}, "x2": {"field": "t1"}, "y": {"datum": 4}, "y2": {"datum": -4}}},
        {"data": {"name": "psp"}, "mark": {"type": "text", "font": "Liberation Sans", "fontWeight": "bold", "fontSize": 18, "color": "#3a3a3a", "align": "center", "baseline": "alphabetic", "dx": 30.6, "dy": -5.5},
         "encoding": {"x": {"field": "t0", "type": "quantitative"}, "y": {"datum": -4}, "text": {"field": "label"}}},
        {"data": {"name": "PzL"}, "transform": [{"fold": ["nl", "nh", "pl", "ph"], "as": ["s", "v"]}],
         "mark": {"type": "line", "interpolate": "catmull-rom", "strokeWidth": 2.5},
         "encoding": {
           "x": {"field": "t", "type": "quantitative", "scale": {"domain": [-200, 800], "nice": false, "zero": false},
             "axis": {"zindex": 1, "labels": true, "values": [-200, 200, 400, 600, 800], "title": "ms", "titleX": 278, "titleY": 35, "titleAlign": "center", "titleBaseline": "alphabetic", "titleFontSize": 18}},
           "y": {"field": "v", "type": "quantitative", "scale": {"domain": [-4, 4], "nice": false, "zero": false},
             "axis": {"zindex": 1, "labels": true, "values": [-4, -2, 2, 4], "title": "Pz", "titleAngle": 0, "titleAlign": "left", "titleBaseline": "alphabetic", "titleX": -51, "titleY": 17.5}},
           "color": {"field": "s", "type": "nominal", "scale": {"domain": ["nl", "nh", "pl", "ph"], "range": ["#8b1a1a", "#1b3be8", "#8b1a1a", "#1b3be8"]}, "legend": null},
           "strokeDash": {"field": "s", "type": "nominal", "scale": {"domain": ["nl", "nh", "pl", "ph"], "range": [[1, 0], [1, 0], [6, 4], [6, 4]]}, "legend": null}
         }},
        {"data": {"name": "xt"}, "mark": {"type": "tick", "orient": "vertical", "size": 12},
         "encoding": {"x": {"field": "t", "type": "quantitative"}, "y": {"datum": 0}}},
        {"data": {"name": "yt"}, "transform": [{"filter": "abs(datum.v) < 4"}], "mark": {"type": "tick", "orient": "horizontal", "size": 9},
         "encoding": {"y": {"field": "v", "type": "quantitative"}, "x": {"datum": 0}}},
        {"data": {"name": "yt"}, "transform": [{"filter": "abs(datum.v) == 4"}], "mark": {"type": "tick", "orient": "horizontal", "size": 13},
         "encoding": {"y": {"field": "v", "type": "quantitative"}, "x": {"datum": 0}}},
        {"data": {"name": "unit"}, "mark": {"type": "text", "font": "Liberation Sans", "fontWeight": "bold", "fontSize": 18, "color": "black", "align": "left", "baseline": "alphabetic", "dx": 15, "dy": 17},
         "encoding": {"x": {"datum": 0}, "y": {"datum": 4}, "text": {"field": "label"}}}
      ]
    },
    {
      "width": 306, "height": 229,
      "layer": [
        {"data": {"name": "psp"}, "mark": {"type": "rect", "color": "#f2f2f2"},
         "encoding": {"x": {"field": "t0", "type": "quantitative"}, "x2": {"field": "t1"}, "y": {"datum": 4}, "y2": {"datum": -4}}},
        {"data": {"name": "psp"}, "mark": {"type": "text", "font": "Liberation Sans", "fontWeight": "bold", "fontSize": 18, "color": "#3a3a3a", "align": "center", "baseline": "alphabetic", "dx": 30.6, "dy": -5.5},
         "encoding": {"x": {"field": "t0", "type": "quantitative"}, "y": {"datum": -4}, "text": {"field": "label"}}},
        {"data": {"name": "PzR"}, "transform": [{"fold": ["nl", "nh", "pl", "ph"], "as": ["s", "v"]}],
         "mark": {"type": "line", "interpolate": "catmull-rom", "strokeWidth": 2.5},
         "encoding": {
           "x": {"field": "t", "type": "quantitative", "scale": {"domain": [-200, 800], "nice": false, "zero": false}, "axis": {"title": null, "zindex": 1}},
           "y": {"field": "v", "type": "quantitative", "scale": {"domain": [-4, 4], "nice": false, "zero": false}, "axis": {"title": null, "zindex": 1}},
           "color": {"field": "s", "type": "nominal", "scale": {"domain": ["nl", "nh", "pl", "ph"], "range": ["#000000", "#228b22", "#000000", "#228b22"]}, "legend": null},
           "strokeDash": {"field": "s", "type": "nominal", "scale": {"domain": ["nl", "nh", "pl", "ph"], "range": [[1, 0], [1, 0], [6, 4], [6, 4]]}, "legend": null}
         }},
        {"data": {"name": "xt"}, "mark": {"type": "tick", "orient": "vertical", "size": 12},
         "encoding": {"x": {"field": "t", "type": "quantitative"}, "y": {"datum": 0}}},
        {"data": {"name": "yt"}, "transform": [{"filter": "abs(datum.v) < 4"}], "mark": {"type": "tick", "orient": "horizontal", "size": 9},
         "encoding": {"y": {"field": "v", "type": "quantitative"}, "x": {"datum": 0}}},
        {"data": {"name": "yt"}, "transform": [{"filter": "abs(datum.v) == 4"}], "mark": {"type": "tick", "orient": "horizontal", "size": 13},
         "encoding": {"y": {"field": "v", "type": "quantitative"}, "x": {"datum": 0}}}
      ]
    }
  ]
}
